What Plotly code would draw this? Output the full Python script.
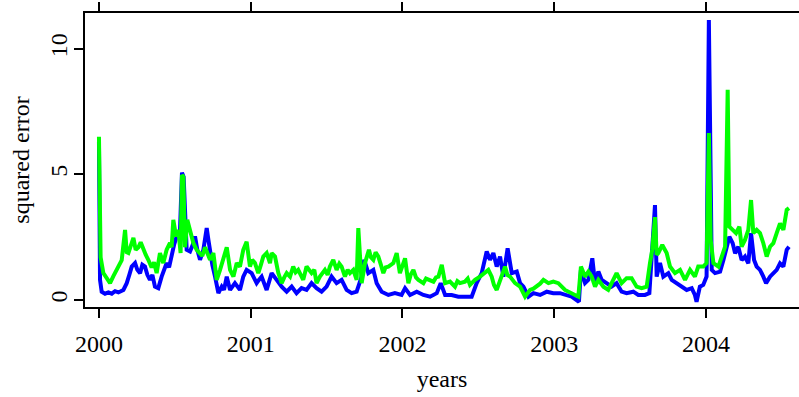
import plotly.graph_objects as go

# ---- data (decimal years, squared error) ----
blue_t = [
    2000.000, 2000.007, 2000.018, 2000.040, 2000.062, 2000.084, 2000.106, 2000.128, 2000.161, 2000.183,
    2000.200, 2000.216, 2000.238, 2000.253, 2000.271, 2000.286, 2000.303, 2000.319, 2000.336, 2000.352,
    2000.369, 2000.391, 2000.413, 2000.429, 2000.446, 2000.462, 2000.479, 2000.495, 2000.512, 2000.534,
    2000.547, 2000.558, 2000.578, 2000.600, 2000.618, 2000.633, 2000.648, 2000.666, 2000.688, 2000.710,
    2000.721, 2000.732, 2000.747, 2000.765, 2000.787, 2000.809, 2000.824, 2000.842, 2000.864, 2000.896,
    2000.929, 2000.951, 2000.973, 2001.006, 2001.039, 2001.054, 2001.072, 2001.105, 2001.120, 2001.138,
    2001.171, 2001.204, 2001.237, 2001.270, 2001.302, 2001.335, 2001.368, 2001.401, 2001.434, 2001.467,
    2001.500, 2001.533, 2001.566, 2001.599, 2001.632, 2001.665, 2001.698, 2001.731, 2001.748, 2001.775,
    2001.808, 2001.830, 2001.863, 2001.907, 2001.950, 2001.994, 2002.017, 2002.050, 2002.094, 2002.138,
    2002.182, 2002.226, 2002.252, 2002.281, 2002.324, 2002.368, 2002.412, 2002.456, 2002.489, 2002.522,
    2002.555, 2002.577, 2002.599, 2002.621, 2002.643, 2002.665, 2002.693, 2002.720, 2002.753, 2002.775,
    2002.797, 2002.830, 2002.863, 2002.907, 2002.951, 2002.994, 2003.038, 2003.071, 2003.115, 2003.163,
    2003.176, 2003.203, 2003.225, 2003.251, 2003.269, 2003.291, 2003.313, 2003.345, 2003.378, 2003.411,
    2003.444, 2003.477, 2003.521, 2003.554, 2003.598, 2003.627, 2003.642, 2003.664, 2003.675, 2003.697,
    2003.719, 2003.752, 2003.774, 2003.807, 2003.840, 2003.873, 2003.906, 2003.927, 2003.938, 2003.960,
    2003.982, 2004.004, 2004.019, 2004.038, 2004.060, 2004.093, 2004.115, 2004.137, 2004.154, 2004.176,
    2004.192, 2004.213, 2004.235, 2004.257, 2004.279, 2004.297, 2004.317, 2004.334, 2004.356, 2004.378,
    2004.396, 2004.422, 2004.444, 2004.466, 2004.488, 2004.510, 2004.532, 2004.547,
]
blue_v = [
    6.30, 0.80, 0.33, 0.25, 0.30, 0.25, 0.35, 0.30, 0.40, 0.67,
    1.00, 1.33, 1.47, 1.20, 1.07, 1.40, 1.33, 1.00, 0.80, 1.00,
    0.53, 0.47, 0.93, 1.20, 1.47, 1.30, 1.87, 2.20, 2.53, 2.79,
    5.07, 4.90, 2.00, 1.93, 2.20, 2.53, 2.00, 1.60, 2.00, 2.86,
    2.40, 1.87, 1.40, 0.93, 0.27, 0.53, 0.40, 0.93, 0.40, 0.67,
    0.40, 0.93, 1.20, 1.07, 0.67, 0.80, 0.93, 0.40, 0.70, 1.07,
    0.80, 0.53, 0.33, 0.53, 0.27, 0.47, 0.40, 0.67, 0.47, 0.33,
    0.53, 0.93, 0.67, 0.80, 0.40, 0.27, 0.33, 0.93, 1.60, 1.07,
    1.20, 0.67, 0.33, 0.20, 0.27, 0.20, 0.47, 0.20, 0.33, 0.20,
    0.13, 0.27, 0.67, 0.20, 0.20, 0.13, 0.13, 0.13, 0.67, 1.07,
    1.93, 1.60, 1.87, 1.33, 1.73, 0.93, 2.06, 1.07, 1.13, 0.67,
    0.53, 0.13, 0.27, 0.20, 0.33, 0.27, 0.27, 0.20, 0.13, -0.07,
    1.20, 0.67, 0.80, 1.66, 0.67, 1.13, 0.80, 0.67, 0.53, 0.67,
    0.33, 0.27, 0.33, 0.20, 0.20, 0.27, 1.60, 3.78, 0.93, 1.47,
    0.93, 1.07, 0.80, 0.67, 0.53, 0.40, 0.47, 0.20, -0.07, 0.53,
    0.60, 0.93, 11.15, 1.20, 1.07, 1.13, 1.59, 2.12, 2.52, 2.26,
    1.86, 2.12, 1.59, 1.73, 1.46, 2.66, 1.59, 1.33, 1.20, 0.93,
    0.67, 0.93, 1.07, 1.20, 1.46, 1.33, 2.00, 2.12,
]

green_t = [
    2000.000, 2000.011, 2000.029, 2000.051, 2000.073, 2000.095, 2000.117, 2000.139, 2000.150, 2000.172,
    2000.183, 2000.194, 2000.209, 2000.227, 2000.242, 2000.260, 2000.275, 2000.292, 2000.308, 2000.325,
    2000.347, 2000.363, 2000.380, 2000.402, 2000.424, 2000.446, 2000.468, 2000.479, 2000.490, 2000.508,
    2000.523, 2000.538, 2000.547, 2000.556, 2000.567, 2000.582, 2000.600, 2000.622, 2000.644, 2000.666,
    2000.681, 2000.699, 2000.714, 2000.732, 2000.754, 2000.776, 2000.798, 2000.820, 2000.842, 2000.864,
    2000.886, 2000.908, 2000.929, 2000.951, 2000.973, 2000.995, 2001.010, 2001.028, 2001.050, 2001.067,
    2001.083, 2001.105, 2001.127, 2001.138, 2001.160, 2001.182, 2001.204, 2001.221, 2001.237, 2001.259,
    2001.280, 2001.296, 2001.313, 2001.346, 2001.368, 2001.401, 2001.419, 2001.434, 2001.456, 2001.489,
    2001.507, 2001.522, 2001.544, 2001.566, 2001.584, 2001.599, 2001.621, 2001.639, 2001.654, 2001.676,
    2001.698, 2001.709, 2001.720, 2001.731, 2001.753, 2001.779, 2001.792, 2001.808, 2001.823, 2001.841,
    2001.858, 2001.874, 2001.889, 2001.907, 2001.940, 2001.962, 2001.983, 2002.017, 2002.039, 2002.054,
    2002.072, 2002.089, 2002.105, 2002.138, 2002.155, 2002.171, 2002.204, 2002.221, 2002.237, 2002.259,
    2002.281, 2002.313, 2002.346, 2002.362, 2002.379, 2002.412, 2002.430, 2002.445, 2002.478, 2002.511,
    2002.544, 2002.566, 2002.588, 2002.603, 2002.621, 2002.643, 2002.676, 2002.691, 2002.709, 2002.742,
    2002.775, 2002.808, 2002.841, 2002.863, 2002.885, 2002.907, 2002.929, 2002.962, 2002.994, 2003.027,
    2003.071, 2003.115, 2003.159, 2003.176, 2003.203, 2003.225, 2003.247, 2003.269, 2003.291, 2003.324,
    2003.356, 2003.389, 2003.411, 2003.444, 2003.477, 2003.510, 2003.543, 2003.576, 2003.609, 2003.631,
    2003.646, 2003.664, 2003.675, 2003.686, 2003.712, 2003.741, 2003.763, 2003.796, 2003.829, 2003.862,
    2003.895, 2003.927, 2003.949, 2003.982, 2004.004, 2004.019, 2004.031, 2004.049, 2004.082, 2004.104,
    2004.126, 2004.143, 2004.154, 2004.176, 2004.198, 2004.220, 2004.235, 2004.257, 2004.279, 2004.297,
    2004.312, 2004.334, 2004.356, 2004.378, 2004.400, 2004.422, 2004.444, 2004.466, 2004.488, 2004.510,
    2004.532, 2004.547,
]
green_v = [
    6.50, 1.70, 1.07, 0.90, 0.67, 0.95, 1.20, 1.45, 1.59, 2.79,
    1.90, 1.87, 2.10, 2.47, 2.00, 2.10, 2.30, 2.00, 1.80, 1.60,
    1.30, 1.50, 1.07, 1.87, 1.47, 2.00, 2.27, 2.10, 3.19, 2.53,
    2.79, 1.87, 4.98, 4.90, 2.10, 3.19, 2.79, 2.27, 2.00, 1.87,
    1.75, 2.10, 1.85, 1.60, 1.87, 0.80, 1.20, 1.73, 2.10, 1.20,
    0.93, 1.47, 1.33, 2.00, 2.32, 1.33, 1.60, 1.47, 1.07, 1.40,
    1.73, 1.87, 1.47, 1.87, 1.73, 1.07, 0.67, 0.90, 1.07, 0.93,
    1.33, 1.10, 1.20, 0.80, 1.33, 1.07, 1.20, 0.67, 0.93, 1.20,
    1.00, 1.33, 1.60, 1.20, 1.45, 1.33, 0.93, 1.20, 1.07, 1.20,
    0.80, 2.86, 1.60, 0.67, 1.47, 2.00, 1.70, 1.60, 1.90, 1.73,
    1.40, 1.07, 1.30, 1.33, 1.47, 1.87, 1.07, 1.66, 0.67, 1.00,
    1.20, 0.90, 0.80, 0.67, 0.85, 0.80, 0.73, 0.90, 0.93, 1.40,
    0.67, 0.73, 0.53, 0.75, 0.67, 0.73, 0.85, 0.60, 0.80, 0.93,
    1.07, 1.20, 0.93, 0.60, 0.40, 0.80, 1.33, 1.00, 0.93, 0.67,
    0.53, 0.13, 0.40, 0.45, 0.53, 0.65, 0.80, 0.67, 0.73, 0.67,
    0.40, 0.27, 0.13, 1.33, 0.93, 1.13, 0.93, 0.53, 0.80, 0.53,
    0.40, 0.80, 1.07, 0.67, 0.87, 0.87, 0.53, 0.47, 0.53, 1.47,
    2.00, 3.30, 1.80, 1.87, 2.19, 1.87, 1.33, 1.07, 1.20, 0.80,
    1.20, 0.93, 1.33, 1.33, 1.47, 6.65, 2.39, 1.47, 1.33, 1.73,
    2.12, 8.37, 2.92, 2.79, 2.66, 2.92, 2.12, 2.39, 2.79, 3.98,
    2.66, 2.79, 2.66, 2.26, 1.73, 2.12, 2.26, 2.66, 3.05, 2.79,
    3.59, 3.66,
]

year_ticks = [2000, 2001, 2002, 2003, 2004]
y_ticks = [0, 5, 10]

FONT = "Liberation Serif"

fig = go.Figure()
fig.add_trace(go.Scatter(x=blue_t, y=blue_v, mode="lines",
                         line=dict(color="#0000FF", width=4), showlegend=False))
fig.add_trace(go.Scatter(x=green_t, y=green_v, mode="lines",
                         line=dict(color="#00FF00", width=4), showlegend=False))

fig.update_layout(
    width=799, height=397,
    margin=dict(l=85, r=0, t=13, b=90),
    paper_bgcolor="white", plot_bgcolor="white",
    font=dict(family=FONT, size=24, color="black"),
    xaxis=dict(
        range=[1999.908, 2004.613],
        tickvals=year_ticks, ticktext=[str(v) for v in year_ticks],
        ticks="outside", ticklen=9, tickwidth=2, tickcolor="black",
        ticklabelstandoff=5,
        showline=True, linewidth=2, linecolor="black", mirror="ticks",
        showgrid=False, zeroline=False,
        title=dict(text="years", font=dict(family=FONT, size=24), standoff=14),
        tickfont=dict(family=FONT, size=24),
    ),
    yaxis=dict(
        range=[-0.28, 11.43],
        tickvals=y_ticks, ticktext=[str(v) for v in y_ticks],
        tickangle=-90,
        ticks="outside", ticklen=9, tickwidth=2, tickcolor="black",
        ticklabelstandoff=-3,
        showline=True, linewidth=2, linecolor="black", mirror=False,
        showgrid=False, zeroline=False,
        title=dict(text="squared error", font=dict(family=FONT, size=24), standoff=10),
        tickfont=dict(family=FONT, size=24),
    ),
)

fig.write_html("out.html")
